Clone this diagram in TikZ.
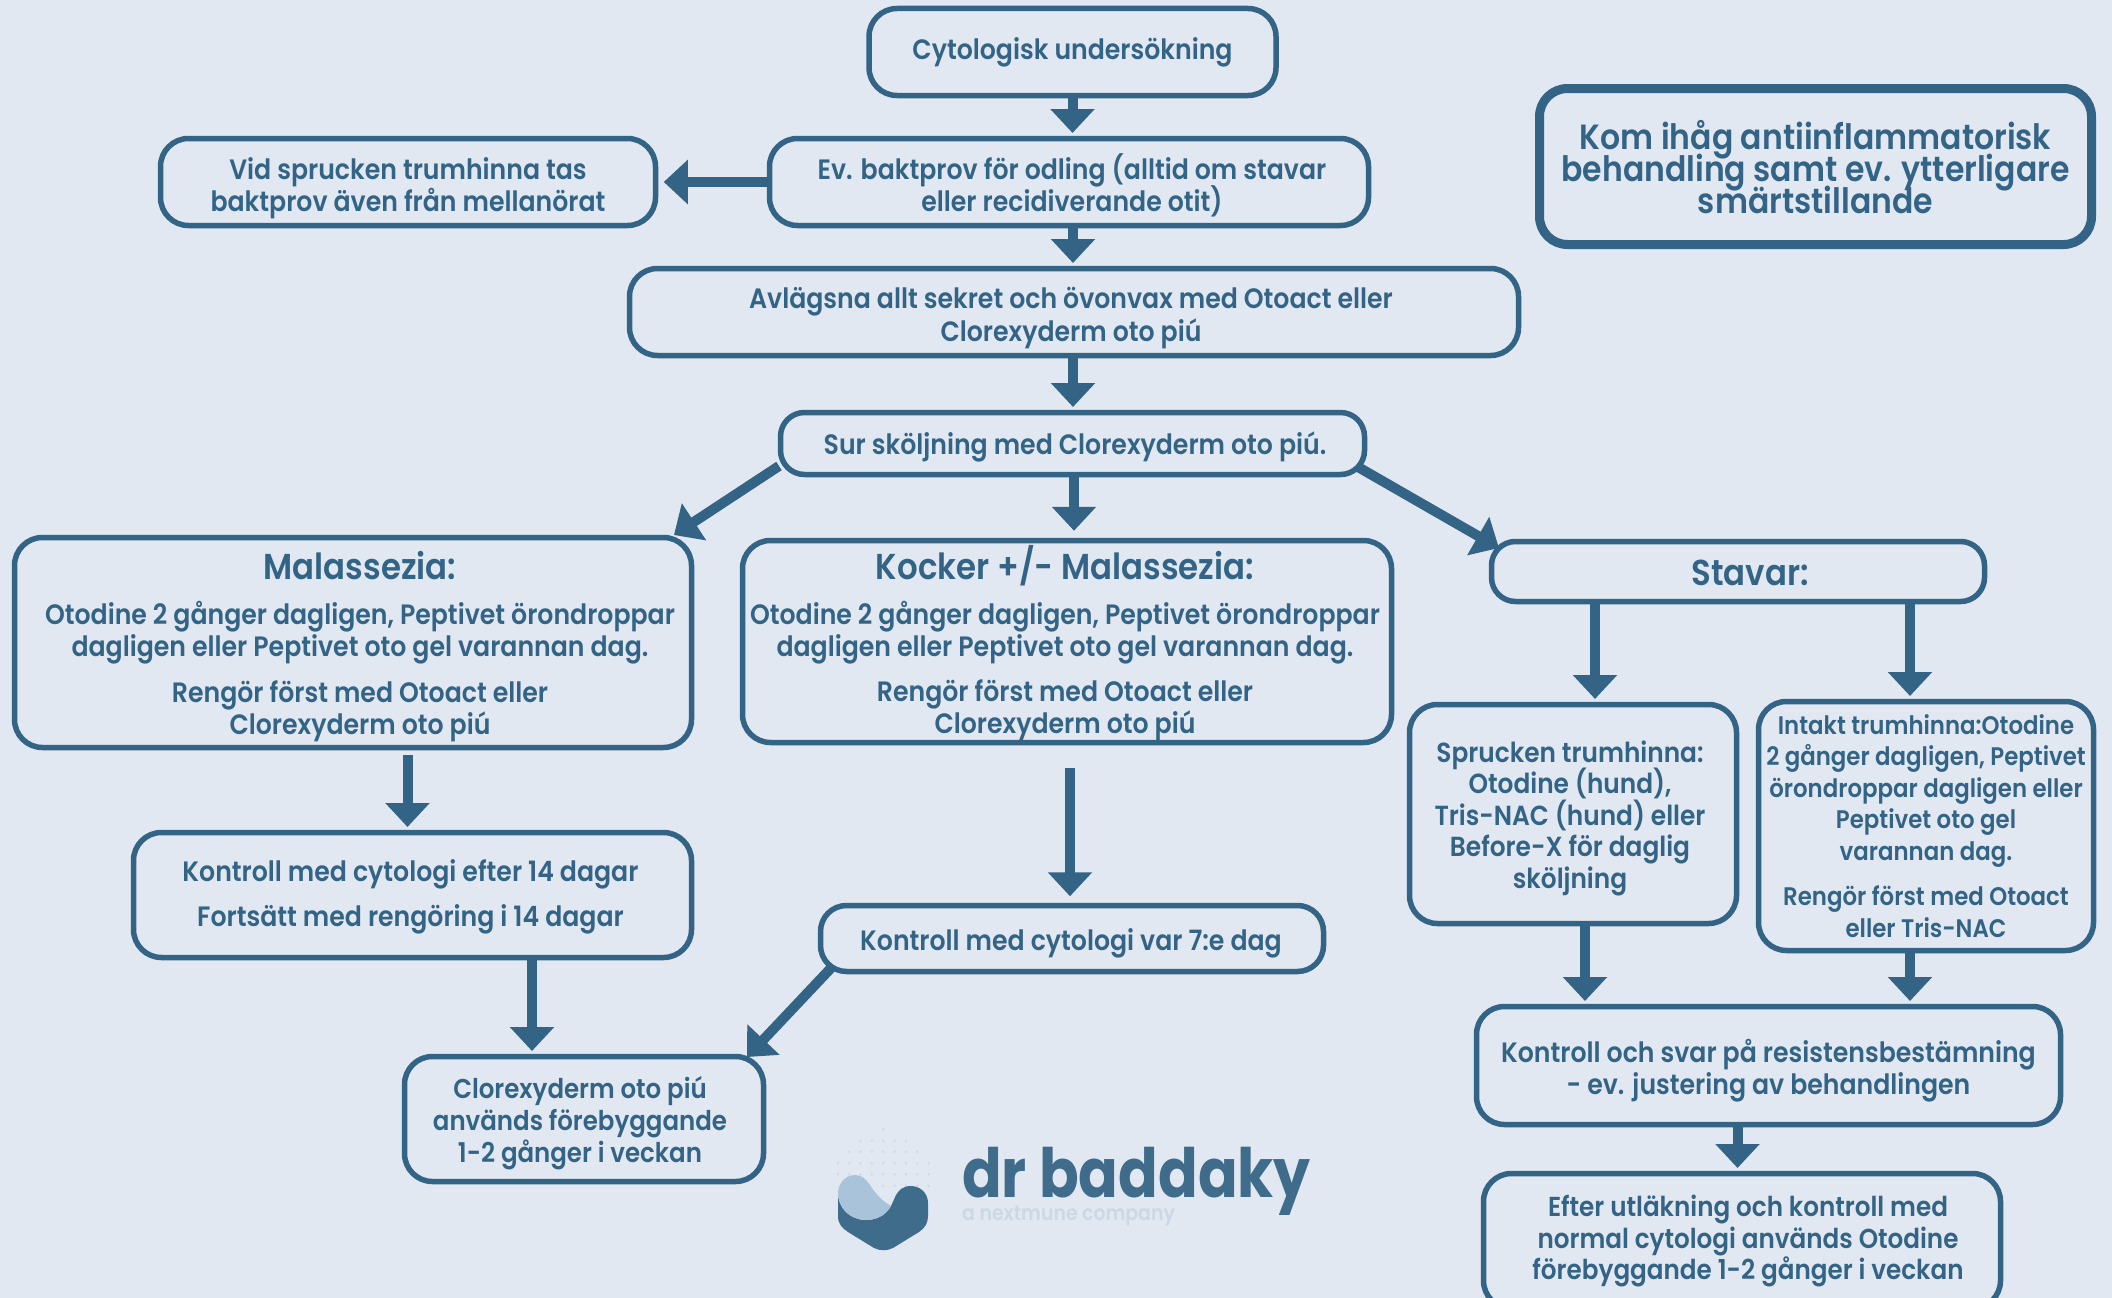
\documentclass[tikz,border=0pt]{standalone}
\usepackage{fontspec}
\usetikzlibrary{arrows.meta}
\newfontfamily\tf{Poppins}[FakeStretch=0.90,UprightFont=*-SemiBold]
\newfontfamily\lf{Poppins}[FakeStretch=0.86,UprightFont=*-Bold]
\definecolor{bgc}{HTML}{E1E8F1}
\definecolor{ink}{HTML}{336485}
\definecolor{logod}{HTML}{3F6C8B}
\definecolor{logol}{HTML}{A9C4DA}
\definecolor{logog}{HTML}{CDD8E4}
\lineskiplimit=-100pt
\tikzset{
  box/.style={draw=ink,line width=5.5pt,rounded corners=28pt,inner sep=0pt},
  wh/.style n args={2}{minimum width=#1pt-3pt,minimum height=#2pt-3pt},
  lab/.style={text=ink,align=center,inner sep=0pt,font=\tf\fontsize{28}{32.3}\selectfont},
  arr/.style={draw=ink,line width=10pt,shorten >=2.75pt,-{Triangle[width=43pt,length=24pt]}},
  ttl/.style={font=\tf\fontsize{36}{38}\selectfont}
}
\begin{document}
\begin{tikzpicture}[x=1pt,y=-1pt]
\useasboundingbox (0,0) rectangle (2112,1298);
\fill[bgc] (0,0) rectangle (2112,1298);
\clip (0,0) rectangle (2112,1298);
% boxes
\node[box,wh={410}{90},label={[lab,name=tcyt,yshift=0pt]center:Cytologisk undersökning}] (cyt) at (1072.5,52) {};
\node[box,wh={602}{90},label={[lab,name=tev,xshift=3pt,yshift=-3pt]center:Ev. baktprov för odling (alltid om stavar\\eller recidiverande otit)}] (ev) at (1069,182) {};
\node[box,wh={498}{90},label={[lab,name=tvid,yshift=-6pt]center:Vid sprucken trumhinna tas\\baktprov även från mellanörat}] (vid) at (408,182) {};
\node[box,wh={892}{90},label={[lab,name=tavl,xshift=-3pt,yshift=-6pt]center:Avlägsna allt sekret och övonvax med Otoact eller\\Clorexyderm oto piú}] (avl) at (1074,312) {};
\node[box,wh={587}{65},rounded corners=24pt,label={[lab,name=tsur,xshift=2.5pt,yshift=-3pt]center:Sur sköljning med Clorexyderm oto piú.}] (sur) at (1072.5,443.5) {};
\node[box,wh={680}{213},label={[lab,name=tmal,xshift=7pt,yshift=-4pt]center:{\fontsize{36}{38}\selectfont Malassezia:}\\[13pt]Otodine 2 gånger dagligen, Peptivet örondroppar\\dagligen eller Peptivet oto gel varannan dag.\\[13pt]Rengör först med Otoact eller\\Clorexyderm oto piú}] (mal) at (353,642.5) {};
\node[box,wh={652}{205},label={[lab,name=tkoc,xshift=-2pt,yshift=-2pt]center:{\fontsize{36}{38}\selectfont Kocker +/- Malassezia:}\\[12pt]Otodine 2 gånger dagligen, Peptivet örondroppar\\dagligen eller Peptivet oto gel varannan dag.\\[13pt]Rengör först med Otoact eller\\Clorexyderm oto piú}] (koc) at (1067,641.5) {};
\node[box,wh={496}{63},rounded corners=24pt,label={[lab,name=tsta,ttl,xshift=12pt,yshift=-1.5pt]center:Stavar:}] (sta) at (1738,571.5) {};
\node[box,wh={561}{128},label={[lab,name=tk14,xshift=-2pt,yshift=-2pt]center:Kontroll med cytologi efter 14 dagar\\[13pt]Fortsätt med rengöring i 14 dagar}] (k14) at (412.5,895) {};
\node[box,wh={506}{69},rounded corners=26pt,label={[lab,name=tk7,xshift=-1pt,yshift=-5pt]center:Kontroll med cytologi var 7:e dag}] (k7) at (1072,938.5) {};
\node[box,wh={362}{128},label={[lab,name=tclo,xshift=-4pt,yshift=-4pt,font=\tf\fontsize{27.2}{32}\selectfont]center:Clorexyderm oto piú\\används förebyggande\\1-2 gånger i veckan}] (clo) at (584,1119) {};
\node[box,wh={330}{222},label={[lab,name=tspr,xshift=-3pt,yshift=-4pt,font=\tf\fontsize{27.6}{31.5}\selectfont]center:Sprucken trumhinna:\\Otodine (hund),\\Tris-NAC (hund) eller\\Before-X för daglig\\sköljning}] (spr) at (1573,814) {};
\node[box,wh={338}{252},label={[lab,name=tint,yshift=0pt,font=\tf\fontsize{25.4}{31.5}\selectfont]center:Intakt trumhinna:Otodine\\2 gånger dagligen, Peptivet\\örondroppar dagligen eller\\Peptivet oto gel\\varannan dag.\\[14pt]Rengör först med Otoact\\eller Tris-NAC}] (int) at (1926,826) {};
\node[box,wh={587}{121},label={[lab,name=tres,yshift=-5pt]center:Kontroll och svar på resistensbestämning\\- ev. justering av behandlingen}] (res) at (1768.5,1065.5) {};
\node[box,wh={520}{138},label={[lab,name=teft,xshift=6pt,yshift=0pt,font=\tf\fontsize{27.4}{31.5}\selectfont]center:Efter utläkning och kontroll med\\normal cytologi används Otodine\\förebyggande 1-2 gånger i veckan}] (eft) at (1742,1241) {};
\node[box,wh={555}{159},line width=9pt,label={[lab,name=tkom,font=\tf\fontsize{35}{32}\selectfont,yshift=-1pt]center:Kom ihåg antiinflammatorisk\\behandling samt ev. ytterligare\\smärtstillande}] (kom) at (1815.5,166.5) {};
% connector end points
\coordinate (malin) at (674,535);
\coordinate (surl) at (779,466);
\coordinate (surr) at (1358,467);
\coordinate (stain) at (1499,548);
\coordinate (k7l) at (832,967);
\coordinate (cloin) at (747,1057);
% connectors
\draw[arr] (cyt.south) -- (cyt.south |- ev.north);
\draw[arr] ([xshift=4pt]ev.south) -- ([xshift=4pt]ev.south |- avl.north);
\draw[arr] ([xshift=-1pt]avl.south) -- ([xshift=-1pt]avl.south |- sur.north);
\draw[arr,shorten >=5.5pt] (ev.west) -- (ev.west -| vid.east);
\draw[arr,shorten >=7pt] ([xshift=1.5pt]sur.south) -- ([xshift=1.5pt]sur.south |- koc.north);
\draw[arr,shorten >=0pt] (surl) -- (malin);
\draw[arr,shorten >=0pt] (surr) -- (stain);
\draw[arr] ([xshift=-143pt]sta.south) -- ([xshift=-143pt]sta.south |- spr.north);
\draw[arr] ([xshift=172pt]sta.south) -- ([xshift=172pt]sta.south |- int.north);
\draw[arr,shorten <=5pt] ([xshift=54.5pt]mal.south) -- ([xshift=54.5pt]mal.south |- k14.north);
\draw[arr,shorten <=23pt,shorten >=6.5pt] ([xshift=3pt]koc.south) -- ([xshift=3pt]koc.south |- k7.north);
\draw[arr] ([xshift=119.5pt]k14.south) -- ([xshift=119.5pt]k14.south |- clo.north);
\draw[arr,shorten >=0pt] (k7l) -- (cloin);
\draw[arr] ([xshift=12pt]spr.south) -- ([xshift=12pt]spr.south |- res.north);
\draw[arr] ([xshift=-16pt]int.south) -- ([xshift=-16pt]int.south |- res.north);
\draw[arr] ([xshift=-31pt]res.south) -- ([xshift=-31pt]res.south |- eft.north);
% logo
\foreach \r/\y/\a/\b in {0/1129.3/0/0,1/1140.7/-2/2,2/1151.7/-3/3,3/1163.3/-4/4,4/1174.3/-4/4,5/1185.7/0/4}{
  \foreach \c in {\a,...,\b}{\fill[logog] (883.2+\c*11.35,\y) circle (1.3pt);}
}
\fill[logod] (838,1193) -- (838,1216) .. controls (838,1224) and (842,1228) .. (848,1232) -- (874,1248) .. controls (880,1251) and (887,1251) .. (893,1248) -- (919,1232) .. controls (925,1228) and (928,1223) .. (928,1216) -- (928,1203) .. controls (928,1193) and (920,1186) .. (911,1186) .. controls (903,1186) and (899,1190) .. (896,1195) -- (891,1206) .. controls (886,1215) and (877,1220) .. (866,1220) .. controls (850,1220) and (838,1208) .. (838,1193) -- cycle;
\fill[logol] (838,1193) .. controls (838,1183) and (846,1175) .. (855,1175) .. controls (862,1175) and (866,1179) .. (870,1185) .. controls (875,1193) and (882,1201) .. (891,1206) .. controls (886,1215) and (877,1220) .. (866,1220) .. controls (850,1220) and (838,1208) .. (838,1193) -- cycle;
\node[anchor=base west,inner sep=0pt,text=logod,font=\lf\fontsize{68}{70}\selectfont] (brand) at (962,1197) {dr baddaky};
\node[anchor=base west,inner sep=0pt,text=logog,font=\tf\fontsize{21}{24}\selectfont] (sub) at (962,1220) {a nextmune company};
\end{tikzpicture}
\end{document}
